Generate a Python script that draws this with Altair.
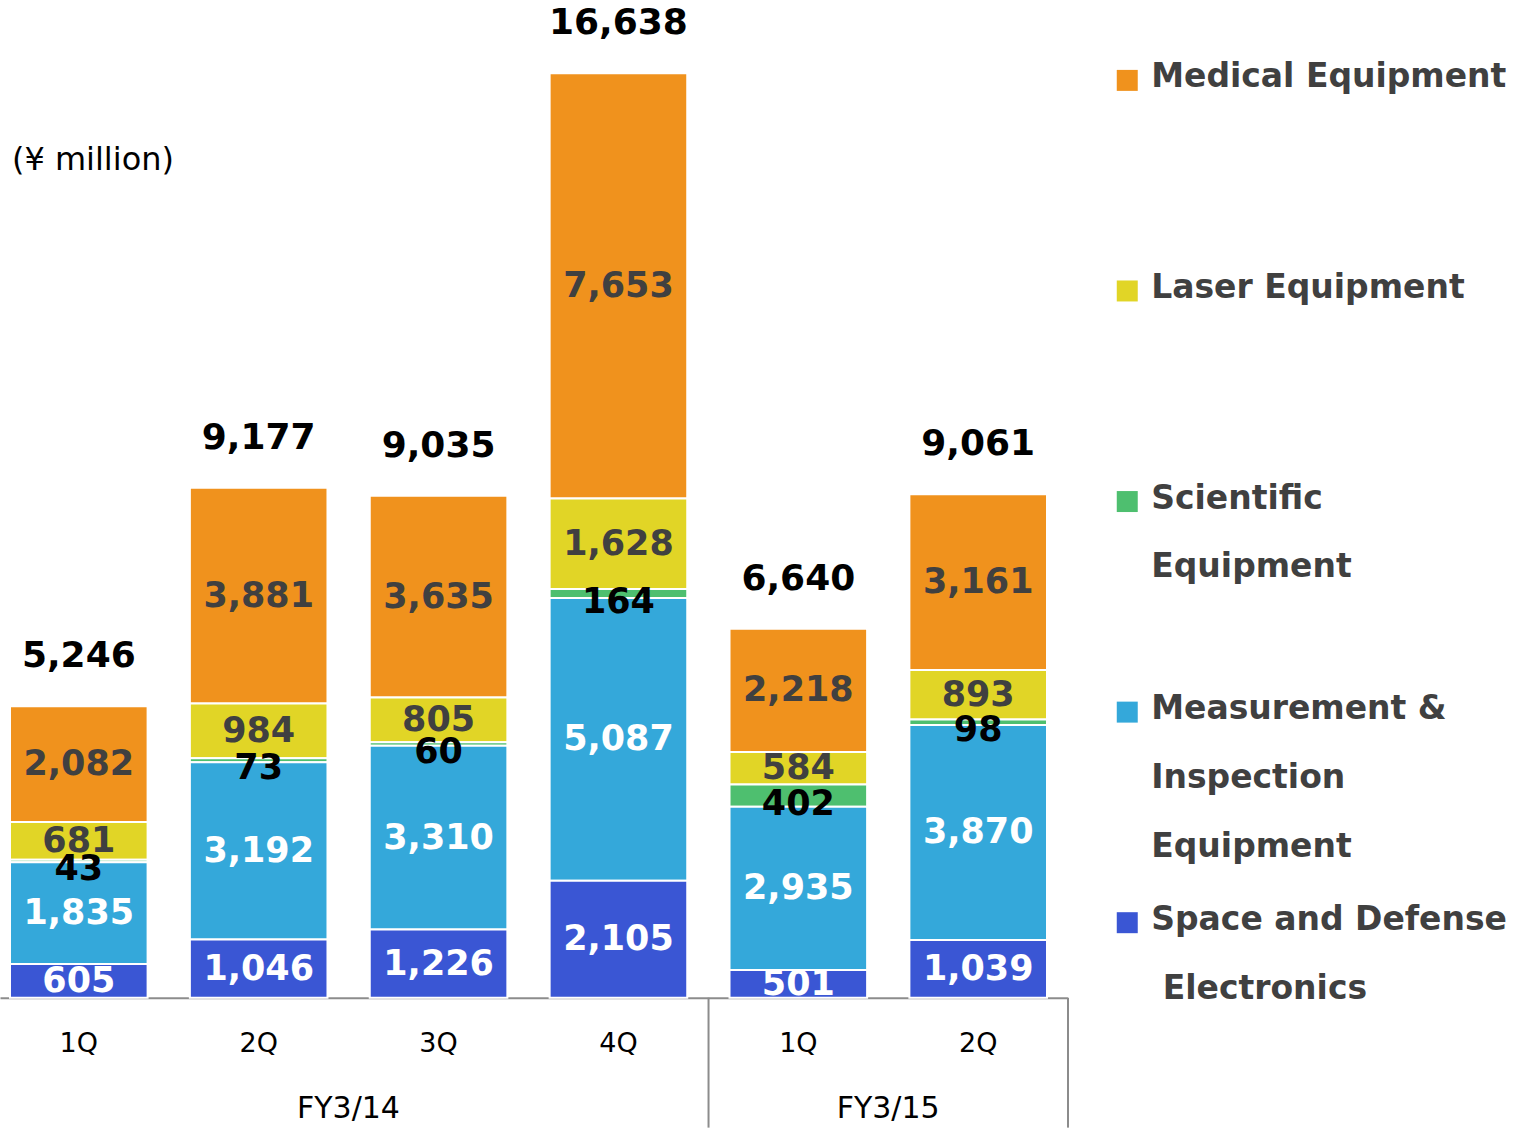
import altair as alt
import pandas as pd

# Quarterly net sales by segment (¥ million)
quarters = ["FY3/14 1Q", "FY3/14 2Q", "FY3/14 3Q", "FY3/14 4Q", "FY3/15 1Q", "FY3/15 2Q"]
segments = [
    "Medical Equipment",
    "Laser Equipment",
    "Scientific Equipment",
    "Measurement & Inspection Equipment",
    "Space and Defense Electronics",
]
legend_text = [
    "Medical Equipment",
    "Laser Equipment",
    "Scientific\nEquipment",
    "Measurement &\nInspection\nEquipment",
    "Space and Defense\n\u200b\u00a0Electronics",
]
seg_colors = ["#F0921D", "#E1D526", "#4EBF6F", "#34A8DA", "#3A56D4"]
# stacking rank: 0 sits on the baseline
stack_rank = [4, 3, 2, 1, 0]

medical = [2082, 3881, 3635, 7653, 2218, 3161]
laser = [681, 984, 805, 1628, 584, 893]
scientific = [43, 73, 60, 164, 402, 98]
measurement = [1835, 3192, 3310, 5087, 2935, 3870]
space_defense = [605, 1046, 1226, 2105, 501, 1039]
totals = [5246, 9177, 9035, 16638, 6640, 9061]

series = [medical, laser, scientific, measurement, space_defense]

rows = []
for name, rank, vals in zip(segments, stack_rank, series):
    for q, v in zip(quarters, vals):
        rows.append({"quarter": q, "segment": name, "rank": rank, "value": v})
df = pd.DataFrame(rows)
tot_df = pd.DataFrame({"quarter": quarters, "total": totals})
legend_df = pd.DataFrame({"segment": segments, "text": legend_text})

W, H = 1068, 998
FONT = "DejaVu Sans"
HALF_GAP = 21  # half of the space between neighbouring bars, px

x_enc = alt.X(
    "quarter:N",
    sort=quarters,
    title=None,
    scale=alt.Scale(paddingInner=0.235, paddingOuter=0.0842, align=0.33),
    axis=alt.Axis(
        labelExpr="split(datum.label, ' ')[1]",
        labelAngle=0,
        labelFont=FONT,
        labelFontSize=27,
        labelColor="#000000",
        labelPadding=33,
        ticks=False,
        grid=False,
        domainColor="#8C8C8C",
        domainWidth=2,
    ),
)
color_scale = alt.Scale(domain=segments, range=seg_colors)
y_scale = alt.Scale(domain=[0, 17950], nice=False)

stacked = (
    alt.Chart(df)
    .transform_stack(
        stack="value",
        groupby=["quarter"],
        as_=["y0", "y1"],
        sort=[alt.SortField("rank", order="ascending")],
    )
    .transform_calculate(ymid="(datum.y0 + datum.y1) / 2")
)

bars = stacked.mark_bar(stroke="white", strokeWidth=2).encode(
    x=x_enc,
    y=alt.Y("y0:Q", scale=y_scale, axis=None),
    y2="y1:Q",
    color=alt.Color("segment:N", scale=color_scale, legend=None),
)


def seg_labels(names, color, dy=0):
    return (
        stacked.transform_filter(alt.FieldOneOfPredicate(field="segment", oneOf=names))
        .mark_text(
            font=FONT, fontSize=35, fontWeight="bold", color=color,
            baseline="middle", dy=dy, clip=True,
        )
        .encode(
            x=alt.X("quarter:N", sort=quarters),
            y=alt.Y("ymid:Q", scale=y_scale, axis=None),
            text=alt.Text("value:Q", format=","),
        )
    )


lab_dark = seg_labels(["Medical Equipment", "Laser Equipment"], "#404040")
lab_sci = seg_labels(["Scientific Equipment"], "#000000", dy=8)
lab_white = seg_labels(
    ["Measurement & Inspection Equipment", "Space and Defense Electronics"], "#FFFFFF"
)

total_labels = (
    alt.Chart(tot_df)
    .mark_text(font=FONT, fontSize=36, fontWeight="bold", color="#000000",
               baseline="middle", dy=-50)
    .encode(
        x=alt.X("quarter:N", sort=quarters),
        y=alt.Y("total:Q", scale=y_scale, axis=None),
        text=alt.Text("total:Q", format=","),
    )
)

unit_label = (
    alt.Chart(pd.DataFrame({"t": ["(¥ million)"]}))
    .mark_text(font=FONT, fontSize=32, color="#000000", align="left", baseline="middle")
    .encode(x=alt.value(12), y=alt.value(160), text="t:N")
)

# fiscal-year separators below the axis
sep_style = dict(color="#8C8C8C", strokeWidth=2)
sep_start = (
    alt.Chart(pd.DataFrame({"quarter": ["FY3/15 1Q"]}))
    .mark_rule(xOffset=-HALF_GAP, **sep_style)
    .encode(
        x=alt.X("quarter:N", sort=quarters, bandPosition=0),
        y=alt.value(H),
        y2=alt.value(H + 130),
    )
)
sep_end = (
    alt.Chart(pd.DataFrame({"quarter": ["FY3/15 2Q"]}))
    .mark_rule(xOffset=HALF_GAP, **sep_style)
    .encode(
        x=alt.X("quarter:N", sort=quarters, bandPosition=1),
        y=alt.value(H),
        y2=alt.value(H + 130),
    )
)
fy_labels = (
    alt.Chart(pd.DataFrame({"quarter": ["FY3/14 2Q", "FY3/15 1Q"], "fy": ["FY3/14", "FY3/15"]}))
    .mark_text(font=FONT, fontSize=30, color="#000000", baseline="middle", dx=HALF_GAP)
    .encode(
        x=alt.X("quarter:N", sort=quarters, bandPosition=1),
        y=alt.value(H + 111),
        text="fy:N",
    )
)

main = alt.layer(
    bars, lab_dark, lab_white, lab_sci, total_labels, unit_label,
    sep_start, sep_end, fy_labels,
).properties(width=W, height=H)

# legend panel
leg_y = alt.Y(
    "segment:N", sort=segments, axis=None,
    scale=alt.Scale(type="point", padding=0.38),
)
leg_sq = alt.Chart(legend_df).mark_square(size=441, opacity=1).encode(
    x=alt.value(27),
    y=leg_y,
    color=alt.Color("segment:N", scale=color_scale, legend=None),
)
leg_txt = alt.Chart(legend_df).mark_text(
    font=FONT, fontSize=33, fontWeight="bold", color="#404040",
    align="left", baseline="top", dy=-19, lineBreak="\n", lineHeight=69,
).encode(x=alt.value(51), y=leg_y, text="text:N")

legend_panel = alt.layer(leg_sq, leg_txt).properties(width=417, height=1003)

chart = (
    alt.hconcat(main, legend_panel, spacing=31)
    .properties(padding=0, background="white")
    .configure_view(stroke=None)
)

chart.save("out.html", embed_options={"renderer": "svg", "actions": False})
